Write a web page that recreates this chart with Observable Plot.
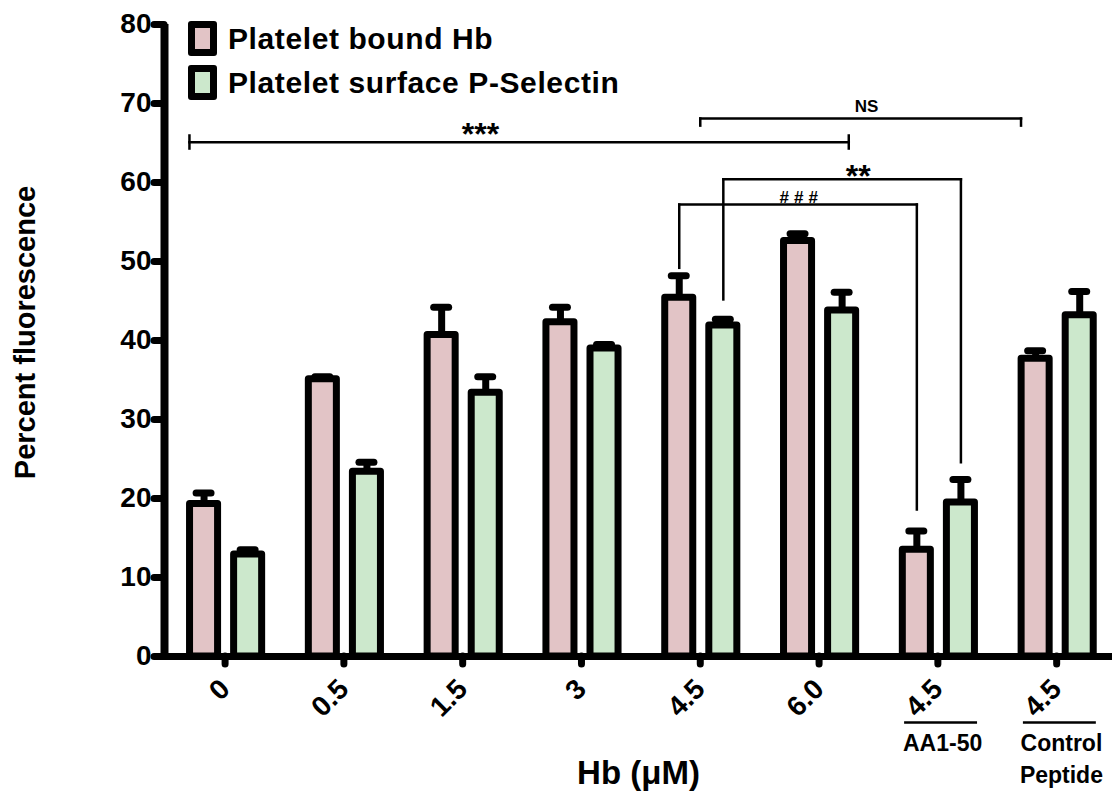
<!DOCTYPE html>
<html><head><meta charset="utf-8">
<script src="https://cdn.jsdelivr.net/npm/d3@7"></script>
<script src="https://cdn.jsdelivr.net/npm/@observablehq/plot@0.6"></script>
<style>
body{margin:0;background:#fff;}
#wrap{position:relative;width:1117px;height:792px;}
#wrap svg{position:absolute;left:0;top:0;}
.legend{position:absolute;left:188px;top:21px;font:bold 30px "Liberation Sans",Arial,sans-serif;letter-spacing:0.6px;color:#000;}
.item{display:flex;align-items:center;height:35px;margin-bottom:9px;white-space:nowrap;}
.sw{box-sizing:border-box;width:29px;height:35px;border:7px solid #000;border-radius:3px;margin-right:11px;flex:none;}
</style></head><body><div id="wrap"></div>
<script>
const FONT = '"Liberation Sans", Arial, Helvetica, sans-serif';
// categories
const groups = ["0", "0.5", "1.5", "3", "4.5", "6.0", "4.5", "4.5"];
const subLabels = ["", "", "", "", "", "", "AA1-50", "Control\nPeptide"];
const seriesNames = ["Platelet bound Hb", "Platelet surface P-Selectin"];
const seriesColors = ["#e2c4c6", "#cce8cc"];
// values (mean) and upper error (SEM)
const boundHb = [19.3, 35.1, 40.7, 42.3, 45.4, 52.6, 13.5, 37.7];
const boundHbErr = [1.4, 0.3, 3.5, 1.9, 2.8, 0.9, 2.4, 1.0];
const pSelectin = [12.9, 23.4, 33.4, 39.0, 41.9, 43.8, 19.5, 43.2];
const pSelectinErr = [0.6, 1.2, 2.0, 0.5, 0.8, 2.3, 2.9, 3.0];
const yTicks = [0, 10, 20, 30, 40, 50, 60, 70, 80];
// significance brackets (x in category units, y in percent)
const brackets = [
  {label: "***", x1: -0.30, x2: 5.25, y: 65.1, leg1: [64.3, 65.95], leg2: [64.3, 65.95], lx: 2.15, ly: 64.8, big: true},
  {label: "NS",  x1: 4.00, x2: 6.70, y: 68.1, leg1: [67.2, 68.1], leg2: [67.2, 68.1], lx: 5.40, ly: 68.9, big: false},
  {label: "###", x1: 3.823, x2: 5.823, y: 57.2, leg1: [49.2, 57.2], leg2: [18.6, 57.2], lx: 4.85, ly: 57.4, big: false},
  {label: "**",  x1: 4.194, x2: 6.194, y: 60.4, leg1: [45.2, 60.4], leg2: [24.6, 60.4], lx: 5.33, ly: 59.4, big: true}
];

const xDomain = [-0.51, 7.47];
const offsets = [-0.177, 0.194];
const halfW = 0.118;
const capHalf = 0.063;

const table = [];
groups.forEach((g, i) => {
  table.push({i, s: 0, value: boundHb[i], err: boundHbErr[i], xc: i + offsets[0]});
  table.push({i, s: 1, value: pSelectin[i], err: pSelectinErr[i], xc: i + offsets[1]});
});
const groupData = groups.map((g, i) => ({i, label: g, sub: subLabels[i]}));
const subData = groupData.filter(d => d.sub);
const segs = [];
brackets.forEach(b => {
  segs.push({x1: b.x1, x2: b.x2, y1: b.y, y2: b.y});
  segs.push({x1: b.x1, x2: b.x1, y1: b.leg1[0], y2: b.leg1[1]});
  segs.push({x1: b.x2, x2: b.x2, y1: b.leg2[0], y2: b.leg2[1]});
});

const barMarks = [0, 1].map(s => Plot.rectY(table.filter(d => d.s === s), {
  x1: d => d.xc - halfW, x2: d => d.xc + halfW, y1: 0, y2: "value",
  fill: seriesColors[s], stroke: "#000", strokeWidth: 7, strokeLinejoin: "round"
}));

const chart = Plot.plot({
  width: 1117, height: 792,
  marginLeft: 164, marginRight: 5, marginTop: 24, marginBottom: 136,
  x: {domain: xDomain, axis: null},
  y: {domain: [0, 80], axis: null},
  style: {fontFamily: FONT, fontWeight: "bold", color: "#000", background: "transparent"},
  marks: [
    Plot.axisY({ticks: yTicks, tickSize: 10, tickPadding: 3, fontSize: 28, fontWeight: "bold",
      strokeWidth: 7, strokeLinecap: "round", label: null, tickFormat: d => String(d)}),
    Plot.axisX({ticks: d3.range(groups.length), tickSize: 8, strokeWidth: 7, strokeLinecap: "round",
      tickFormat: () => "", label: null}),
    Plot.ruleX([xDomain[0]], {y1: 0, y2: 80, strokeWidth: 8}),
    Plot.ruleY([0], {strokeWidth: 7}),
    ...barMarks,
    Plot.ruleX(table, {x: "xc", y1: "value", y2: d => d.value + d.err, strokeWidth: 7}),
    Plot.ruleY(table, {y: d => d.value + d.err, x1: d => d.xc - capHalf, x2: d => d.xc + capHalf,
      strokeWidth: 7, strokeLinecap: "round"}),
    Plot.link(segs, {x1: "x1", y1: "y1", x2: "x2", y2: "y2", strokeWidth: 2.5, strokeLinecap: "square"}),
    Plot.text(brackets.filter(b => b.big), {x: "lx", y: "ly", text: "label", fontSize: 32,
      fontWeight: "bold", lineAnchor: "bottom"}),
    Plot.text(brackets.filter(b => !b.big), {x: "lx", y: "ly", text: "label", fontSize: 17,
      fontWeight: "bold", lineAnchor: "bottom"}),
    Plot.text(groupData, {x: "i", y: 0, text: "label", rotate: -45, textAnchor: "end",
      lineAnchor: "middle", dy: 28, fontSize: 28, fontWeight: "bold"}),
    Plot.ruleY(subData, {y: 0, x1: d => d.i - 0.28, x2: d => d.i + 0.334, dy: 66, strokeWidth: 2.5}),
    Plot.text(subData, {x: d => d.i + 0.04, y: 0, text: "sub", lineAnchor: "top", dy: 72,
      fontSize: 23, fontWeight: "bold", lineHeight: 1.38}),
    Plot.text(["Hb (\u03bcM)"], {frameAnchor: "bottom", textAnchor: "middle", text: d => d, dy: 127,
      fontSize: 33, fontWeight: "bold", lineAnchor: "bottom"}),
    Plot.text(["Percent fluorescence"], {frameAnchor: "left", textAnchor: "middle", text: d => d,
      rotate: -90, dx: -139, dy: -8, fontSize: 29, fontWeight: "bold", lineAnchor: "middle"})
  ]
});

d3.select(chart).selectAll("text").filter(function () { return this.textContent === "###"; })
  .attr("letter-spacing", "5px");

const wrap = document.getElementById("wrap");
wrap.appendChild(chart);
const legend = document.createElement("div");
legend.className = "legend";
seriesNames.forEach((name, s) => {
  const item = document.createElement("div");
  item.className = "item";
  const sw = document.createElement("div");
  sw.className = "sw";
  sw.style.background = seriesColors[s];
  const label = document.createElement("span");
  label.textContent = name;
  item.appendChild(sw);
  item.appendChild(label);
  legend.appendChild(item);
});
wrap.appendChild(legend);
</script></body></html>
